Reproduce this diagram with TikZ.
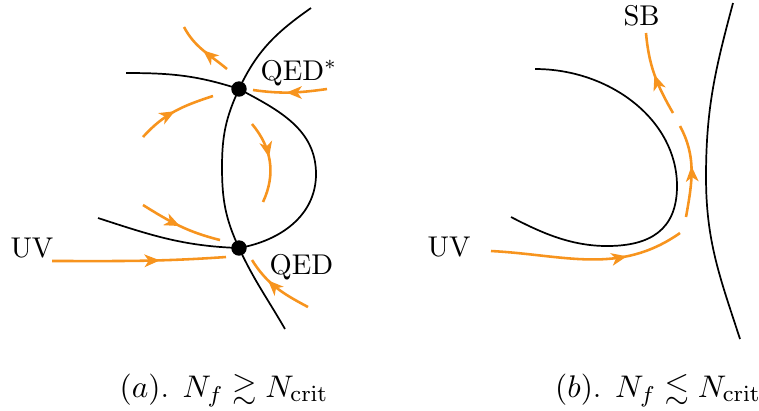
\documentclass[tikz,border=0pt]{standalone}
\usepackage{amssymb}
\usetikzlibrary{arrows.meta,decorations.markings}
\definecolor{flowor}{RGB}{247,148,30}

\begin{document}
\begin{tikzpicture}[
    x=0.35pt, y=0.35pt,
    font=\normalsize,
    curve/.style={draw=black, line width=0.6pt},
    fp/.style={circle, fill=black, inner sep=0pt, minimum size=5.4pt},
    lab/.style={inner sep=0pt},
    captext/.style={inner sep=0pt, anchor=base, font=\fontsize{11}{13}\selectfont},
    flow/.style={draw=flowor, line width=0.9pt, postaction={decorate},
        decoration={markings, mark=at position #1 with {\arrow{Stealth[length=5.4pt,width=4.4pt,inset=1.5pt]}}}},
    flow/.default=0.5,
]
    \useasboundingbox (0,0) rectangle (759,-410);

    % ============= Panel (a) =============
    \coordinate (qedstar) at (239,-89);
    \coordinate (qed) at (239,-248);
    \draw[curve] (311,-8) to[out=215,in=65] (qedstar) to[out=245,in=90] (222,-167)
        to[out=270,in=115] (qed) to[out=295,in=120] (285,-329);
    \draw[curve] (126,-73) to[out=0,in=162] (qedstar) to[out=-28,in=90] (316,-174)
        to[out=270,in=10] (qed);
    \draw[curve] (98,-218) to[out=-18,in=178] (qed);
    \node[fp] (fpstar) at (qedstar) {};
    \node[fp] (fpqed) at (qed) {};

    \coordinate (a1) at (227,-69);   \coordinate (a2) at (184,-27);
    \coordinate (b1) at (143,-137);  \coordinate (b2) at (213,-96);
    \coordinate (c1) at (327,-89);   \coordinate (c2) at (253,-90);
    \coordinate (d1) at (252,-124);  \coordinate (d2) at (263,-202);
    \coordinate (e1) at (143,-205);  \coordinate (e2) at (220,-240);
    \coordinate (f1) at (52,-261);   \coordinate (f2) at (226,-257);
    \coordinate (g1) at (308,-307);  \coordinate (g2) at (252,-260);
    \draw[flow] (a1) to[out=140,in=-62] (a2);
    \draw[flow] (b1) to[out=48,in=198] (b2);
    \draw[flow=0.55] (c1) to[out=188,in=-8] (c2);
    \draw[flow=0.45] (d1) to[out=-50,in=65] (d2);
    \draw[flow] (e1) to[out=-32,in=166] (e2);
    \draw[flow=0.62] (f1) to[out=0,in=184] (f2);
    \draw[flow=0.65] (g1) to[out=152,in=-58] (g2);

    \node[lab, anchor=west] (lqedstar) at (260,-73) {QED$^*$};
    \node[lab, anchor=west] (lqed) at (269,-267) {QED};
    \node[lab, anchor=west] (luva) at (10,-248) {UV};

    % ============= Panel (b) =============
    \draw[curve] (535,-69) .. controls (610,-69) and (677,-120) .. (677,-186)
        .. controls (677,-230) and (650,-246) .. (607,-246)
        .. controls (570,-246) and (540,-232) .. (511,-217);
    \draw[curve] (733,-3) to[out=255,in=90] (706,-177) to[out=270,in=108] (740,-339);

    \coordinate (h1) at (491,-251);  \coordinate (h2) at (680,-233);
    \coordinate (i1) at (686,-217);  \coordinate (i2) at (680,-126);
    \coordinate (j1) at (673,-113);  \coordinate (j2) at (646,-33);
    \draw[flow=0.7] (h1) to[out=-3,in=215] (h2);
    \draw[flow=0.55] (i1) to[out=80,in=-62] (i2);
    \draw[flow=0.5] (j1) to[out=120,in=-85] (j2);

    \node[lab, anchor=west] (lsb) at (623,-16) {SB};
    \node[lab, anchor=west] (luvb) at (427,-247) {UV};

    % captions
    \node[captext] (capa) at (224,-397) {$(a)$. $N_f \gtrsim N_{\rm crit}$};
    \node[captext] (capb) at (658,-397) {$(b)$. $N_f \lesssim N_{\rm crit}$};
\end{tikzpicture}
\end{document}
